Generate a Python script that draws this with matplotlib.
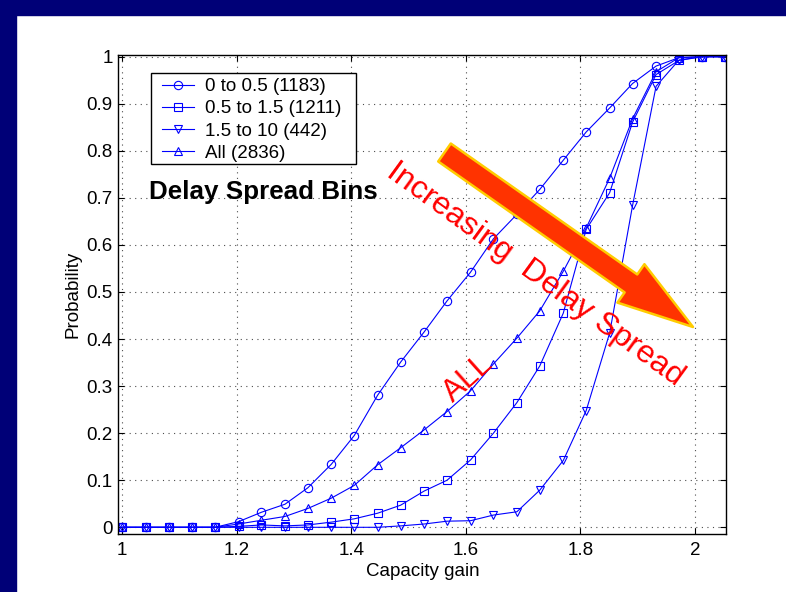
import matplotlib
matplotlib.use("Agg")
import matplotlib.pyplot as plt
from matplotlib.patches import Rectangle

plt.rcParams['font.family'] = ['Liberation Sans', 'DejaVu Sans']

# capacity gain (x) and cumulative probability per delay spread bin
x_gain = [1.000, 1.041, 1.081, 1.122, 1.162, 1.203, 1.243, 1.284, 1.324, 1.365,
          1.405, 1.446, 1.486, 1.527, 1.567, 1.608, 1.648, 1.689, 1.729, 1.770,
          1.810, 1.851, 1.891, 1.932, 1.972, 2.013, 2.053]
p_low = [0, 0, 0, 0, 0, 0.012, 0.032, 0.049, 0.084, 0.134,
         0.195, 0.281, 0.351, 0.415, 0.481, 0.542, 0.613, 0.665, 0.718, 0.780,
         0.840, 0.891, 0.943, 0.980, 0.998, 1.0, 1.0]
p_mid = [0, 0, 0, 0, 0, 0.002, 0.005, 0.003, 0.005, 0.011,
         0.018, 0.030, 0.047, 0.077, 0.100, 0.143, 0.200, 0.265, 0.343, 0.455,
         0.633, 0.711, 0.861, 0.962, 0.992, 1.0, 1.0]
p_high = [0, 0, 0, 0, 0, 0, 0, 0, 0, 0,
          0, 0, 0.003, 0.007, 0.013, 0.014, 0.026, 0.033, 0.079, 0.142,
          0.248, 0.413, 0.684, 0.937, 0.993, 1.0, 1.0]
p_all = [0, 0, 0, 0, 0, 0.007, 0.015, 0.023, 0.040, 0.062,
         0.089, 0.133, 0.169, 0.207, 0.246, 0.290, 0.347, 0.402, 0.460, 0.544,
         0.636, 0.742, 0.868, 0.968, 0.998, 1.0, 1.0]

series = [
    (p_low, "o", "0 to 0.5 (1183)"),
    (p_mid, "s", "0.5 to 1.5 (1211)"),
    (p_high, "v", "1.5 to 10 (442)"),
    (p_all, "^", "All (2836)"),
]
x_ticks = [1, 1.2, 1.4, 1.6, 1.8, 2]
x_tick_labels = ["1", "1.2", "1.4", "1.6", "1.8", "2"]
y_ticks = [0, 0.1, 0.2, 0.3, 0.4, 0.5, 0.6, 0.7, 0.8, 0.9, 1]
y_tick_labels = ["0", "0.1", "0.2", "0.3", "0.4", "0.5", "0.6", "0.7", "0.8", "0.9", "1"]

navy = "#000077"
blue = "#0000ff"
fs = 13.5
W, H = 786, 592


def main():
    fig = plt.figure(figsize=(W / 100, H / 100), dpi=100)
    fig.patch.set_facecolor("white")
    # slide frame: navy band on top and left
    fig.patches.append(Rectangle((0, 1 - 15 / H), 1, 15 / H, transform=fig.transFigure,
                                 color=navy, zorder=0))
    fig.patches.append(Rectangle((0, 0), 16 / W, 1, transform=fig.transFigure,
                                 color=navy, zorder=0))

    ax = fig.add_axes([0.1505, 0.0980, 0.7738, 0.8096])
    for values, marker, label in series:
        ax.plot(x_gain, values, color=blue, marker=marker, markersize=6,
                markerfacecolor="none", markeredgecolor=blue, markeredgewidth=0.8,
                linewidth=0.8, label=label)

    ax.set_xlim(0.993, 2.055)
    ax.set_ylim(-0.0142, 1.0042)
    ax.set_xticks(x_ticks)
    ax.set_xticklabels(x_tick_labels)
    ax.set_yticks(y_ticks)
    ax.set_yticklabels(y_tick_labels)
    ax.tick_params(direction="in", length=4, width=0.8, top=True, right=True,
                   labelsize=fs, colors="black")
    ax.tick_params(axis="x", pad=6)
    ax.tick_params(axis="y", pad=4)
    ax.grid(True, linestyle=(0, (1, 4)), color="0.3", linewidth=0.8)
    for sp in ax.spines.values():
        sp.set_linewidth(1.0)
        sp.set_color("black")

    ax.set_xlabel("Capacity gain", fontsize=fs)
    ax.xaxis.set_label_coords(0.5, -0.0595)
    ax.set_ylabel("Probability", fontsize=fs)
    ax.yaxis.set_label_coords(-0.061, 0.5)

    # legend entries without frame, box drawn separately (matlab style padding)
    leg = ax.legend(loc="upper left", bbox_to_anchor=(162 / W, 1 - 78 / H),
                    bbox_transform=fig.transFigure, borderaxespad=0, borderpad=0,
                    fontsize=fs, frameon=False, labelspacing=0.27,
                    handlelength=1.7, handletextpad=0.6)
    leg.set_zorder(10)
    ax.add_patch(Rectangle((151 / W, 1 - 164 / H), 205 / W, 91 / H,
                           transform=fig.transFigure, fc="white", ec="black",
                           lw=1.0, zorder=4, clip_on=False))

    ax.text(149 / W, 1 - 199 / H, "Delay Spread Bins", fontsize=18.7,
            fontweight="bold", ha="left", va="baseline", transform=fig.transFigure,
            zorder=6)

    # big arrow showing direction of increasing delay spread
    ax.annotate("", xy=(693, H - 327), xycoords="figure pixels",
                xytext=(444.5, H - 152.5), textcoords="figure pixels",
                arrowprops=dict(arrowstyle="simple,head_length=54.6,head_width=33.8,tail_width=15.8",
                                mutation_scale=1, fc="#ff3300", ec="#ffcc00", lw=1.8,
                                shrinkA=0, shrinkB=0),
                zorder=5)

    ax.text(535 / W, 1 - 274 / H, "Increasing  Delay Spread", fontsize=23,
            color="red", rotation=-36, rotation_mode="anchor", ha="center", va="center",
            transform=fig.transFigure, zorder=6)
    ax.text(468 / W, 1 - 378 / H, "ALL", fontsize=22.5, color="red", rotation=42,
            rotation_mode="anchor", ha="center", va="center",
            transform=fig.transFigure, zorder=6)

    fig.savefig("out.png", dpi=100, facecolor=fig.get_facecolor())


if __name__ == '__main__':
    main()
